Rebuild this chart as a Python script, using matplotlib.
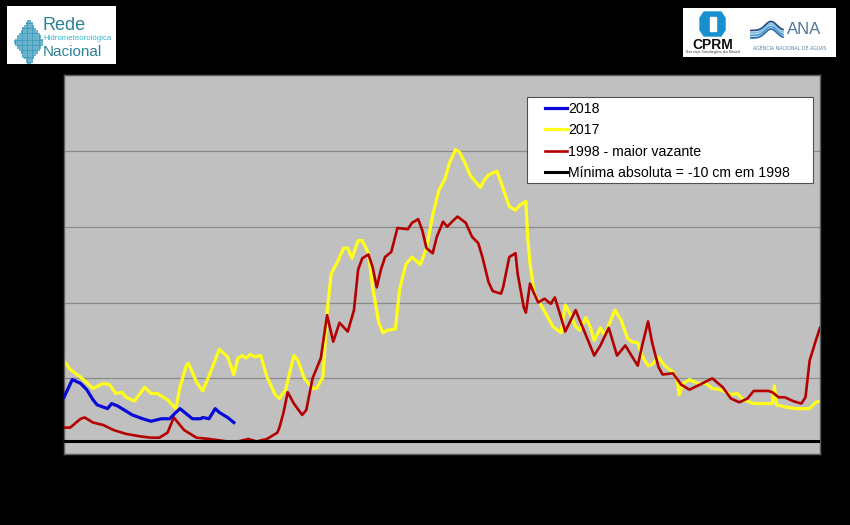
import numpy as np
import matplotlib.pyplot as plt
from matplotlib.patches import Rectangle, Polygon

# dia do ano x cota (cm)
dias_2018 = [0, 2, 4, 8, 11, 14, 16, 21, 23, 26, 29, 33, 38, 42, 47, 51, 54, 56, 59, 62, 66, 67, 70, 73, 75, 79, 82]
cota_2018 = [25, 32, 39, 36, 31, 23, 19, 16, 20, 18, 15, 11, 8, 6, 8, 8, 13, 16, 12, 8, 8, 9, 8, 16, 13, 9, 5]

dias_2017 = [0, 3, 8, 14, 19, 22, 25, 28, 30, 34, 39, 42, 45, 50, 54, 56, 59, 60, 64, 67, 71, 75, 79, 82, 84, 86,
             88, 90, 92, 95, 98, 102, 104, 107, 111, 113, 116, 120, 122, 125, 127, 129, 132, 135, 137, 139, 142,
             144, 147, 149, 152, 154, 156, 160, 162, 165, 168, 170, 172, 175, 178, 181, 184, 186, 189, 191, 194,
             196, 198, 199, 201, 203, 205, 209, 211, 215, 218, 220, 223, 224, 225, 227, 231, 236, 240, 242, 244,
             247, 249, 252, 254, 256, 259, 261, 264, 266, 269, 272, 274, 277, 279, 282, 284, 287, 290, 294, 296,
             297, 299, 302, 306, 310, 313, 317, 322, 325, 328, 333, 339, 342, 343, 344, 349, 354, 360, 363, 365]
cota_2017 = [54, 47, 41, 32, 36, 35, 28, 29, 25, 22, 33, 28, 28, 23, 16, 33, 50, 52, 37, 30, 46, 63, 57, 43, 56, 58,
             56, 59, 57, 58, 41, 27, 24, 31, 58, 54, 40, 32, 32, 41, 92, 123, 132, 143, 143, 135, 149,
             149, 139, 112, 84, 76, 78, 79, 110, 130, 136, 133, 130, 143, 169, 189, 198, 210, 221, 219, 209,
             201, 197, 195, 191, 197, 201, 204, 195, 176, 173, 177, 180, 149, 131, 107, 96, 81, 76, 98, 92,
             81, 78, 88, 81, 70, 80, 74, 86, 94, 86, 72, 69, 68, 58, 50, 51, 57, 50, 45, 39,
             27, 36, 39, 36, 36, 32, 31, 27, 28, 23, 20, 20, 20, 34, 19, 17, 16, 16, 21, 22]

dias_1998 = [0, 3, 8, 10, 14, 19, 24, 30, 37, 42, 46, 50, 53, 55, 58, 64, 70, 79, 84, 89, 93, 98, 101, 103, 104,
             106, 108, 111, 115, 117, 120, 124, 127, 130, 133, 137, 140, 142, 144, 147, 149, 151, 153, 155, 158,
             161, 166, 168, 171, 173, 175, 178, 180, 183, 185, 188, 190, 194, 197, 200, 202, 205, 207, 211, 212,
             215, 218, 219, 222, 223, 225, 227, 229, 232, 235, 237, 240, 242, 247, 253, 256, 259, 263, 267, 271,
             277, 279, 282, 284, 287, 289, 294, 298, 302, 307, 313, 318, 322, 326, 330, 333, 340, 342, 345, 348,
             352, 356, 358, 360, 363, 365]
cota_1998 = [1, 1, 8, 9, 5, 3, -1, -4, -6, -7, -7, -3, 9, 5, -1, -7, -8, -10, -10, -8, -10, -8, -5, -3, 1,
             13, 29, 20, 11, 15, 40, 56, 90, 69, 84, 77, 94, 126, 135, 138, 128, 112, 126, 136, 140,
             159, 158, 163, 166, 157, 143, 139, 152, 164, 160, 165, 168, 163, 152, 147, 136, 116, 109, 107, 112,
             136, 139, 123, 96, 92, 115, 107, 100, 103, 99, 104, 88, 77, 94, 70, 58, 66, 80, 58, 66,
             50, 65, 85, 68, 49, 43, 44, 35, 31, 35, 40, 33, 24, 21, 24, 30, 30, 29, 25, 25,
             22, 20, 25, 54, 70, 80]

minima_absoluta = -10

fig = plt.figure(figsize=(8.5, 5.25), dpi=100, facecolor="black")
ax = fig.add_axes([0.0753, 0.135, 0.8894, 0.722])
ax.set_facecolor("#c0c0c0")

ax.plot(dias_2018, cota_2018, color="#0a0ad8", lw=2.3, label="2018", zorder=4)
ax.plot(dias_2017, cota_2017, color="#ffff1a", lw=2.3, label="2017", zorder=2)
ax.plot(dias_1998, cota_1998, color="#b40000", lw=1.9, label="1998 - maior vazante", zorder=3)
ax.axhline(minima_absoluta, color="black", lw=2.2, label="Mínima absoluta = -10 cm em 1998", zorder=5)

ax.set_xlim(0, 365)
ax.set_ylim(-20, 280)
ax.set_yticks(np.arange(-20, 281, 60))
ax.yaxis.grid(True, color="#8a8a8a", lw=0.9)
ax.set_axisbelow(True)
ax.tick_params(colors="black", labelcolor="black", length=0)
for s in ax.spines.values():
    s.set_color("#606060")
    s.set_linewidth(1)

# caixa da legenda (estilo Excel, com folga dos lados)
ax.add_patch(Rectangle((0.6124, 0.715), 0.3783, 0.227, transform=ax.transAxes, facecolor="white",
                       edgecolor="#505050", lw=0.8, zorder=6))
leg = ax.legend(loc="upper left", bbox_to_anchor=(0.636, 0.929), frameon=False,
                handlelength=1.6, handletextpad=0.05, labelspacing=0.52, borderpad=0, borderaxespad=0,
                prop={"family": "Liberation Sans", "size": 10.2})
leg.set_zorder(7)

# logo Rede Hidrometeorológica Nacional
lg = fig.add_axes([7 / 850, 1 - 64 / 525, 109 / 850, 58 / 525])
lg.set_xlim(0, 109)
lg.set_ylim(58, 0)
lg.set_facecolor("white")
lg.set_xticks([])
lg.set_yticks([])
for s in lg.spines.values():
    s.set_visible(False)
gx, gy = np.meshgrid(np.arange(6, 40, 1.7), np.arange(8, 62, 1.7))
dentro = np.abs(gx - 22) / 15 + np.abs(gy - 36) / 24 < 1
lg.scatter(gx[dentro], gy[dentro], s=2.2, marker="s", color="#3a98bc", alpha=0.75, lw=0)
lg.text(36, 19, "Rede", fontsize=13, color="#2d8196", family="Liberation Sans", va="center")
lg.text(36, 33, "Hidrometeorológica", fontsize=5.6, color="#36b5d0", family="Liberation Sans", va="center")
lg.text(36, 46, "Nacional", fontsize=11, color="#2d8196", family="Liberation Sans", va="center")

# logos CPRM / ANA
rg = fig.add_axes([683 / 850, 1 - 57 / 525, 153 / 850, 49 / 525])
rg.set_xlim(0, 153)
rg.set_ylim(49, 0)
rg.set_facecolor("white")
rg.set_xticks([])
rg.set_yticks([])
for s in rg.spines.values():
    s.set_visible(False)
rg.add_patch(Polygon([[21, 4], [38, 4], [42, 10], [42, 22], [38, 28], [21, 28], [17, 22], [17, 10]],
                     closed=True, color="#1a8fd0"))
rg.add_patch(Rectangle((26.5, 9), 6, 14, color="white"))
rg.text(29.5, 37, "CPRM", fontsize=10, weight="bold", color="#111111", ha="center", va="center",
        family="Liberation Sans")
rg.text(29.5, 44.5, "Serviço Geológico do Brasil", fontsize=2.8, color="#333333", ha="center", va="center")
xs = np.linspace(68, 100, 40)
for k, c in enumerate(["#2a6fb0", "#4a9ad0", "#7fbbe0", "#1d4f8a"]):
    rg.plot(xs, 30 - k * 2.5 - 9 * np.exp(-((xs - 88) / 8) ** 2), color=c, lw=1.3)
rg.text(104, 21, "ANA", fontsize=12, color="#4f7598", va="center", family="Liberation Sans")
rg.text(107, 40, "AGÊNCIA NACIONAL DE ÁGUAS", fontsize=3.4, color="#5a7fa0", ha="center", va="center")

fig.savefig("out.png", dpi=100, facecolor="black")
